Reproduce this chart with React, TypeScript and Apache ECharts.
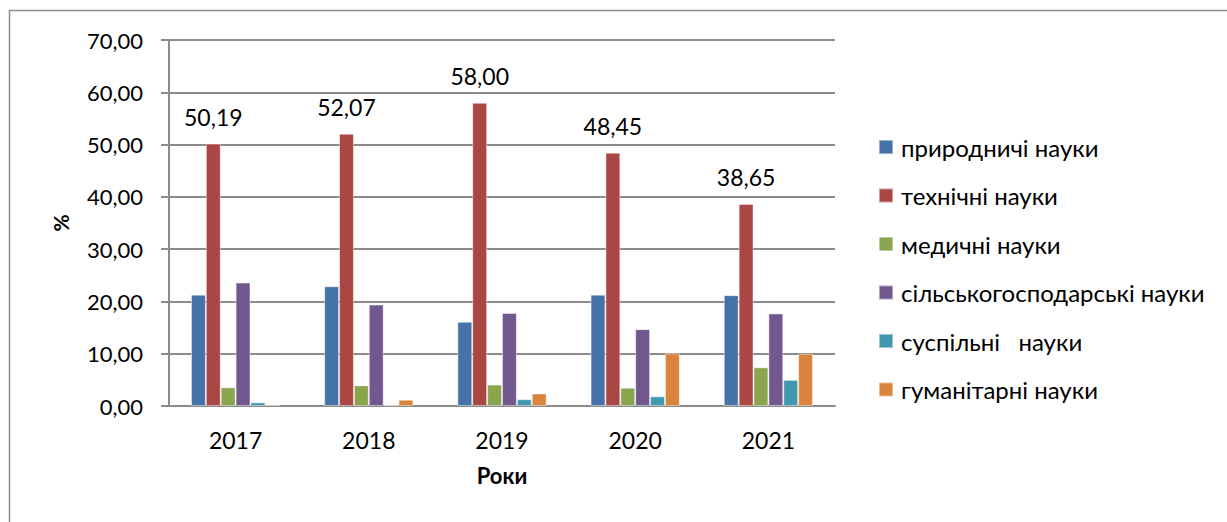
import React, { useEffect, useRef } from "react";
import * as echarts from "echarts";

const years = ["2017", "2018", "2019", "2020", "2021"];
const seriesNames = [
  "природничі науки",
  "технічні науки",
  "медичні науки",
  "сільськогосподарські науки",
  "суспільні   науки",
  "гуманітарні науки",
];
const natural = [21.3, 22.9, 16.1, 21.3, 21.2];
const technical = [50.19, 52.07, 58.0, 48.45, 38.65];
const medical = [3.57, 3.95, 4.1, 3.5, 7.4];
const agricultural = [23.6, 19.4, 17.8, 14.7, 17.7];
const social = [0.7, 0.15, 1.3, 1.85, 5.0];
const humanities = [0.3, 1.2, 2.4, 10.07, 10.0];
const colors = ["#4572A7", "#AA4643", "#89A54E", "#71588F", "#4198AF", "#DB843D"];

const FONT = "Lato, 'Open Sans', sans-serif";
const fmt = (v: number) => v.toFixed(2).replace(".", ",");

export default function App() {
  const ref = useRef<HTMLDivElement>(null);
  useEffect(() => {
    if (!ref.current) return;
    const chart = echarts.init(ref.current, null, { renderer: "svg" });
    const all = [natural, technical, medical, agricultural, social, humanities];
    chart.setOption({
      animation: false,
      backgroundColor: "#fff",
      textStyle: { fontFamily: FONT, color: "#000" },
      graphic: [
        {
          type: "rect",
          shape: { x: 9.5, y: 10.5, width: 1300, height: 700 },
          style: { fill: "none", stroke: "#8c8c8c", lineWidth: 1.5 },
          silent: true,
        },
      ],
      grid: { left: 169, right: 392, top: 40, bottom: 116, containLabel: false },
      legend: {
        orient: "vertical",
        left: 878,
        top: 135,
        padding: 0,
        itemWidth: 14,
        itemHeight: 14,
        itemGap: 24.5,
        icon: "rect",
        data: seriesNames,
        textStyle: { fontFamily: FONT, fontSize: 24, color: "#000", padding: [0, 0, 0, 3] },
      },
      xAxis: {
        type: "category",
        data: years,
        name: "Роки",
        nameLocation: "middle",
        nameGap: 58,
        nameTextStyle: { fontFamily: FONT, fontSize: 22, fontWeight: "bold", color: "#000" },
        axisLine: { lineStyle: { color: "#8c8c8c", width: 2 } },
        axisTick: { show: false },
        axisLabel: { fontFamily: FONT, fontSize: 23, color: "#000", margin: 22 },
      },
      yAxis: {
        type: "value",
        min: 0,
        max: 70,
        interval: 10,
        name: "%",
        nameLocation: "middle",
        nameGap: 98,
        nameRotate: 90,
        nameTextStyle: { fontFamily: FONT, fontSize: 21, fontWeight: "bold", color: "#000" },
        axisLine: { show: true, lineStyle: { color: "#8c8c8c", width: 2 } },
        axisTick: { show: true, length: 8, lineStyle: { color: "#8c8c8c", width: 2 } },
        splitLine: { lineStyle: { color: "#8c8c8c", width: 2 } },
        axisLabel: { fontFamily: FONT, fontSize: 22, color: "#000", margin: 26, formatter: (v: number) => fmt(v) },
      },
      series: seriesNames.map((name, i) => ({
        name,
        type: "bar",
        data: all[i],
        barGap: "0%",
        barCategoryGap: "33%",
        itemStyle: { color: colors[i], borderColor: "rgba(255,255,255,0.45)", borderWidth: 1 },
        label:
          i === 1
            ? {
                show: true,
                position: "top",
                distance: 15,
                fontFamily: FONT,
                fontSize: 23,
                color: "#000",
                formatter: (p: any) => fmt(p.value),
              }
            : { show: false },
      })),
    });
    return () => chart.dispose();
  }, []);
  return (
    <div
      ref={ref}
      style={{ position: "fixed", left: 0, top: 0, width: 1227, height: 522 }}
    />
  );
}
